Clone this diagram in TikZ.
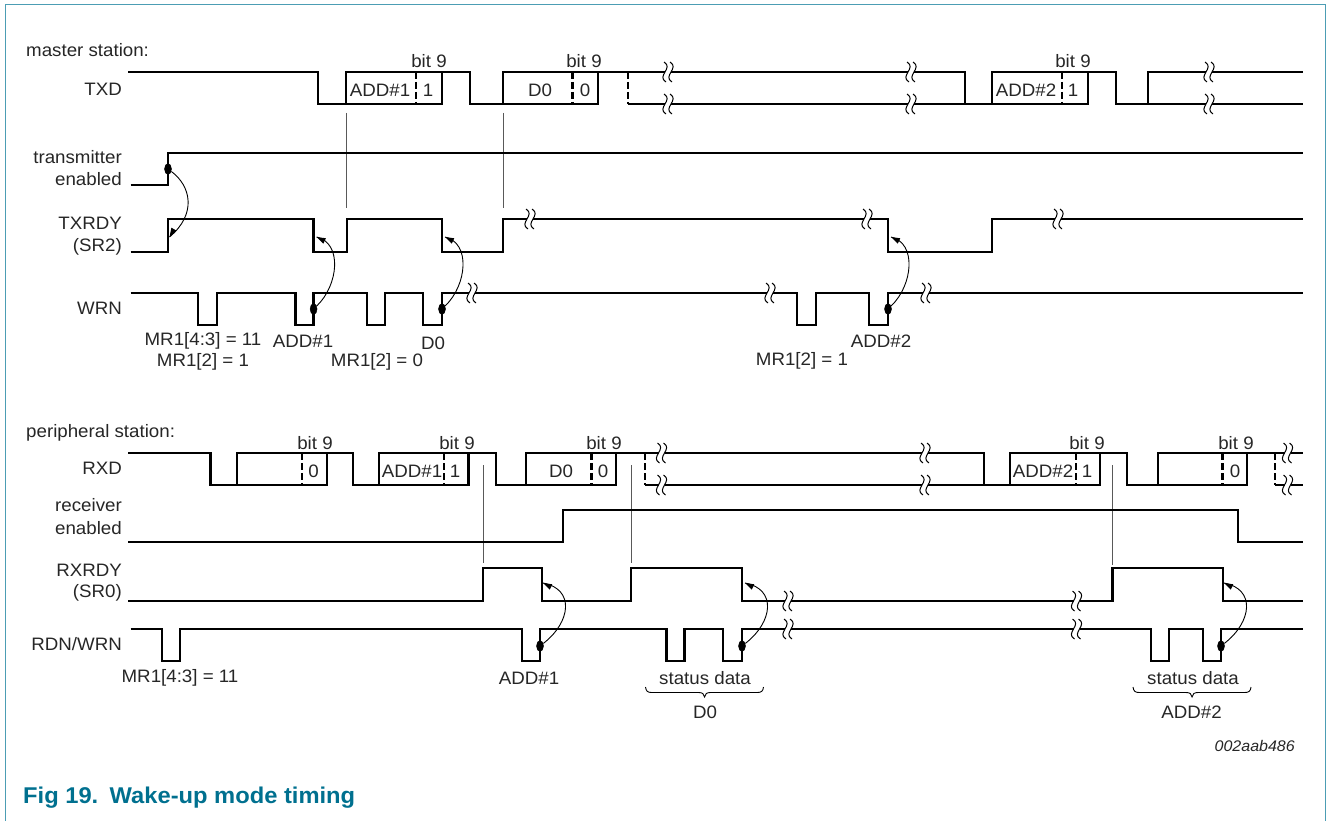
\documentclass[tikz,border=0pt]{standalone}
\usepackage{fontspec}
\setmainfont[FakeStretch=1.04]{Liberation Sans}
\usetikzlibrary{shapes.geometric}
\definecolor{figteal}{HTML}{00708F}
\definecolor{framecol}{HTML}{4C9DB4}
\newcommand{\wavebreak}[2]{
            \fill [white] (#1-3,#2-2) rectangle (#1+3,#2+2);
            \draw [black, line width=1pt] (#1-4,#2-10) .. controls (#1+6,#2-4) and (#1-12,#2+4) .. (#1-2,#2+10);
            \draw [black, line width=1pt] (#1+2,#2-10) .. controls (#1+12,#2-4) and (#1-6,#2+4) .. (#1+4,#2+10);
}
\begin{document}
\begin{tikzpicture}[x=1pt,y=-1pt]
            \tikzstyle{every node}+=[inner sep=0pt, text=black!85, font=\fontsize{18}{20}\selectfont]
            \tikzstyle{wave}=[black, line width=2.8pt, line join=miter]
            \tikzstyle{bitline}=[black, line width=2.6pt, dash pattern=on 7pt off 3pt]
            \tikzstyle{guide}=[black!65, line width=1pt]
            \tikzstyle{curve}=[black, line width=0.9pt]
            \tikzstyle{dot}=[draw=black, fill=black, ellipse, minimum width=7pt, minimum height=11pt]
            \useasboundingbox (0,0) rectangle (1327,821);
            \draw [framecol, line width=1.6pt] (5.5,821) -- (5.5,4.5) -- (1325.5,4.5) -- (1325.5,821);
            \draw (26,50) node (master) [right] {master station:};
            \draw (122,89) node (txd) [left] {TXD};
            \draw (122,157) node (transmitter) [left] {transmitter};
            \draw (122,179) node (enabledtx) [left] {enabled};
            \draw (122,223) node (txrdy) [left] {TXRDY};
            \draw (122,247) node (srtwo) [left] {(SR2)};
            \draw (122,308) node (wrn) [left] {WRN};
            \draw [guide] (346,113) -- (346,208);
            \draw [guide] (503,113) -- (503,208);
            \draw [wave] (128,72) -- (318,72) -- (318,104) -- (346,104) -- (346,72) -- (470,72) -- (470,104) -- (503,104) -- (503,72) -- (965,72) -- (965,104) -- (992,104) -- (992,72) -- (1116,72) -- (1116,104) -- (1148,104) -- (1148,72) -- (1303,72);
            \draw [wave] (346,104) -- (442,104) -- (442,72);
            \draw [wave] (503,104) -- (598,104) -- (598,72);
            \draw [wave] (628,104) -- (965,104);
            \draw [wave] (992,104) -- (1088,104) -- (1088,72);
            \draw [wave] (1148,104) -- (1303,104);
            \foreach \x in {416,572.6,628,1062}
                \draw [bitline] (\x,72) -- (\x,104);
            \draw [wave] (130.5,185) -- (168,185) -- (168,153) -- (1303,153);
            \draw [wave] (130.5,252) -- (168,252) -- (168,219) -- (313.6,219) -- (313.6,252) -- (347,252) -- (347,219) -- (442,219) -- (442,252) -- (503,252) -- (503,219) -- (888,219) -- (888,252) -- (992,252) -- (992,219) -- (1303,219);
            \draw [wave] (130.5,293) -- (198,293) -- (198,325) -- (217,325) -- (217,293) -- (295.5,293) -- (295.5,325) -- (313.6,325) -- (313.6,293) -- (367,293) -- (367,325) -- (385,325) -- (385,293) -- (423,293) -- (423,325) -- (442,325) -- (442,293) -- (797,293) -- (797,325) -- (816,325) -- (816,293) -- (869,293) -- (869,325) -- (888,325) -- (888,293) -- (1303,293);
            \foreach \x in {668,911,1209} {
                \wavebreak{\x}{72}
                \wavebreak{\x}{104}
            }
            \foreach \x/\y in {530/219,867/219,1058/219,472/293,770/293,926/293} {
                \wavebreak{\x}{\y}
            }
            \draw (380,90) node (addonetx) {ADD\#1};
            \draw (428,90) node (onetx) {1};
            \draw (540,90) node (dzerotx) {D0};
            \draw (585,90) node (zerotx) {0};
            \draw (1026,90) node (addtwotx) {ADD\#2};
            \draw (1073,90) node (onetxb) {1};
            \foreach \x/\y/\n in {429/61/a,584/61/b,1073/61/c,315/443/d,457/443/e,604/443/f,1087/443/g,1236/443/h}
                \draw (\x,\y) node (bit\n) {bit 9};
            \draw (203,341) node (mrtxa) {MR1[4:3] = 11};
            \draw (203,362) node (mrtxb) {MR1[2] = 1};
            \draw (303,341) node (addonewr) {ADD\#1};
            \draw (433,343) node (dzerowr) {D0};
            \draw (377,362) node (mrtxc) {MR1[2] = 0};
            \draw (881,341) node (addtwowr) {ADD\#2};
            \draw (802,361) node (mrtxd) {MR1[2] = 1};
            \draw (168,169) node (dota) [dot] {};
            \coordinate (tipa) at (169.5,237);
            \draw [curve] (dota) .. controls (191,186) and (197,214) .. (tipa);
            \fill [black] (tipa) -- ++(7.1,-6.3) -- ++(-5.2,-3) -- cycle;
            \foreach \x/\y/\h/\b/\n in {313.6/309/72/25/b,442/309/72/25/c,888/309/72/25/d,540/646/63/31/e,742/646/63/31/f,1221/646/63/31/g} {
                \draw (\x,\y) node (dot\n) [dot] {};
                \coordinate (tip\n) at (\x+3,\y-\h);
                \draw [curve] (dot\n) .. controls (\x+\b,\y-24) and (\x+\b+4,\y-\h+6) .. (tip\n);
                \fill [black] (tip\n) -- ++(9.3,1.3) -- ++(-2.6,5.4) -- cycle;
            }
            \draw (26,433) node (peripheral) [right] {peripheral station:};
            \draw (122,468) node (rxd) [left] {RXD};
            \draw (122,505) node (receiver) [left] {receiver};
            \draw (122,528) node (enabledrx) [left] {enabled};
            \draw (122,570) node (rxrdy) [left] {RXRDY};
            \draw (122,593) node (srzero) [left] {(SR0)};
            \draw (122,644) node (rdnwrn) [left] {RDN/WRN};
            \draw [guide] (483,465) -- (483,563);
            \draw [guide] (631,465) -- (631,563);
            \draw [guide] (1112.5,465) -- (1112.5,565);
            \draw [wave] (128,453) -- (210.5,453) -- (210.5,485) -- (237,485) -- (237,453) -- (353,453) -- (353,485) -- (379,485) -- (379,453) -- (496,453) -- (496,485) -- (526,485) -- (526,453) -- (984,453) -- (984,485) -- (1010,485) -- (1010,453) -- (1127,453) -- (1127,485) -- (1158,485) -- (1158,453) -- (1303,453);
            \draw [wave] (237,485) -- (327,485) -- (327,453);
            \draw [wave] (379,485) -- (468.6,485) -- (468.6,453);
            \draw [wave] (526,485) -- (616,485) -- (616,453);
            \draw [wave] (645,485) -- (984,485);
            \draw [wave] (1010,485) -- (1100,485) -- (1100,453);
            \draw [wave] (1158,485) -- (1247,485) -- (1247,453);
            \draw [wave] (1275,485) -- (1303,485);
            \foreach \x in {302,444,591.5,645,1076,1222.5,1275}
                \draw [bitline] (\x,453) -- (\x,485);
            \draw [wave] (128,542) -- (563,542) -- (563,510) -- (1238,510) -- (1238,542) -- (1303,542);
            \draw [wave] (128,601) -- (483,601) -- (483,568) -- (542,568) -- (542,601) -- (631,601) -- (631,568) -- (742,568) -- (742,601) -- (1112.5,601) -- (1112.5,568) -- (1223,568) -- (1223,601) -- (1303,601);
            \draw [wave] (130.5,629) -- (162,629) -- (162,661) -- (180,661) -- (180,629) -- (522,629) -- (522,661) -- (540,661) -- (540,629) -- (666.5,629) -- (666.5,661) -- (684.5,661) -- (684.5,629) -- (723,629) -- (723,661) -- (742,661) -- (742,629) -- (1151,629) -- (1151,661) -- (1169,661) -- (1169,629) -- (1203,629) -- (1203,661) -- (1221,661) -- (1221,629) -- (1303,629);
            \foreach \x in {661.5,925,1287.5} {
                \wavebreak{\x}{453}
                \wavebreak{\x}{485}
            }
            \foreach \x in {788,1076.5} {
                \wavebreak{\x}{601}
                \wavebreak{\x}{629}
            }
            \draw (313.6,471) node (zerorxa) {0};
            \draw (412,471) node (addonerx) {ADD\#1};
            \draw (455,471) node (onerx) {1};
            \draw (561,471) node (dzerorx) {D0};
            \draw (603,471) node (zerorxb) {0};
            \draw (1043,471) node (addtworx) {ADD\#2};
            \draw (1087,471) node (onerxb) {1};
            \draw (1235,471) node (zerorxc) {0};
            \draw (180,678) node (mrrx) {MR1[4:3] = 11};
            \draw (529,678) node (addonerd) {ADD\#1};
            \draw (705,678) node (statusa) {status data};
            \draw (1193,678) node (statusb) {status data};
            \draw (705,712) node (dzerord) {D0};
            \draw (1191.5,712) node (addtword) {ADD\#2};
            \foreach \x/\w in {704.5/59,1192/59}
                \draw [curve] (\x-\w,687) .. controls (\x-\w+0.5,691) and (\x-\w+2,692.5) .. (\x-\w+6,692.5) -- (\x-6,692.5) .. controls (\x-2,692.5) and (\x-0.5,694) .. (\x,697) .. controls (\x+0.5,694) and (\x+2,692.5) .. (\x+6,692.5) -- (\x+\w-6,692.5) .. controls (\x+\w-2,692.5) and (\x+\w-0.5,691) .. (\x+\w,687);
            \draw (1295,746) node (docnum) [left, font=\fontsize{15.4}{17}\selectfont\itshape] {002aab486};
            \draw (23,798) node (title) [right, text=figteal, font=\fontsize{22.8}{24}\selectfont\bfseries] {Fig 19.\hspace{0.5em}Wake-up mode timing};
            \end{tikzpicture}
\end{document}
